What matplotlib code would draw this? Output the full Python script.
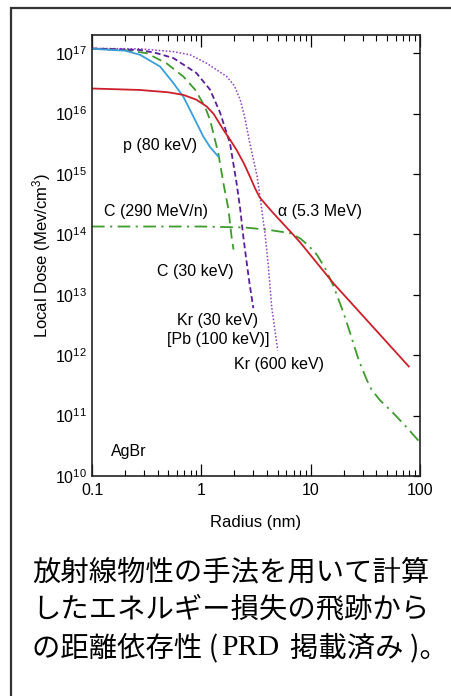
import numpy as np
import matplotlib
matplotlib.use("Agg")
import matplotlib.pyplot as plt
from matplotlib.patches import Rectangle
from matplotlib.ticker import LogLocator, NullFormatter, FixedLocator

plt.rcParams['font.family'] = ['Liberation Sans', 'DejaVu Sans']
plt.rcParams['mathtext.fontset'] = 'custom'
plt.rcParams['mathtext.rm'] = 'Liberation Sans'
plt.rcParams['mathtext.it'] = 'Liberation Sans:italic'

# courbes (rayon en nm, dose en MeV/cm3)
p_r = [0.1, 0.2, 0.275, 0.42, 0.555, 0.685, 0.875, 1.04, 1.2, 1.43]
p_d = [1.18e17, 1.1e17, 9.4e16, 6.0e16, 3.2e16, 1.9e16, 7.9e15, 4.2e15, 2.8e15, 1.94e15]

c30_r = [0.1, 0.2, 0.316, 0.48, 0.685, 0.875, 1.08, 1.2, 1.43, 1.59, 1.77, 1.89, 1.97]
c30_d = [1.18e17, 1.13e17, 1.0e17, 6.8e16, 4.1e16, 2.5e16, 1.3e16, 7.9e15, 2.2e15, 7.1e14, 2.6e14, 9.2e13, 5.6e13]

kr30_r = [0.1, 0.275, 0.39, 0.555, 0.9, 1.2, 1.48, 1.83, 2.1, 2.27, 2.42, 2.57, 2.75, 2.99]
kr30_d = [1.2e17, 1.13e17, 1.0e17, 8.3e16, 4.7e16, 2.5e16, 1.05e16, 3.2e15, 7.1e14, 2.6e14, 9.2e13, 4.0e13, 1.6e13, 6e12]

kr600_r = [0.1, 0.275, 0.555, 0.79, 1.12, 1.71, 2.0, 2.27, 2.5, 2.78, 3.24, 3.57, 3.85, 4.1, 4.4, 5.0]
kr600_d = [1.2e17, 1.18e17, 1.06e17, 9.4e16, 6.8e16, 4.1e16, 2.9e16, 1.7e16, 8.5e15, 3.2e15, 9.1e14, 2.6e14, 9.2e13, 3.0e13, 6.3e12, 1.2e12]

al_r = [0.1, 0.275, 0.5, 0.685, 0.9, 1.12, 1.3, 1.59, 1.85, 2.1, 2.45, 2.78, 3.1, 3.42, 3.9, 4.5, 6.5, 8.0, 16.2, 79]
al_d = [2.6e16, 2.46e16, 2.25e16, 2.04e16, 1.7e16, 1.31e16, 9.8e15, 5.4e15, 3.6e15, 2.5e15, 1.5e15, 9.1e14, 5.8e14, 4.1e14, 3.1e14, 2.3e14, 1.12e14, 7.4e13, 1.54e13, 6.5e11]

c290_r = [0.1, 1.0, 2.5, 3.96, 6.5, 8.0, 9.5, 11.4, 13.5, 16.2, 20, 23, 27.5, 32.6, 36, 43, 57, 75.5, 100]
c290_d = [1.35e14, 1.35e14, 1.3e14, 1.2e14, 1.05e14, 8.6e13, 6.6e13, 4.6e13, 2.8e13, 1.38e13, 5e12, 2.3e12, 8.3e11, 3.9e11, 2.7e11, 1.8e11, 1.1e11, 6.4e10, 3.6e10]

fig = plt.figure(figsize=(4.52, 6.96), dpi=100)
ax = fig.add_axes([92/452, 1-476/696, 328/452, 441/696])

lw = 1.3
ax.plot(c290_r, c290_d, color='#3f9a2e', lw=lw, dashes=(7, 3, 1.2, 3))
ax.plot(c30_r, c30_d, color='#3f9a2e', lw=lw, dashes=(5.5, 3))
ax.plot(kr600_r, kr600_d, color='#8e3bbf', lw=1.1, dashes=(1, 1.3))
ax.plot(kr30_r, kr30_d, color='#5b1f9e', lw=lw, dashes=(3.2, 1.8))
ax.plot(p_r, p_d, color='#3a9fd6', lw=lw)
ax.plot(al_r, al_d, color='#cc1f2a', lw=lw)

ax.set_xscale('log')
ax.set_yscale('log')
ax.set_xlim(0.1, 100)
ax.set_ylim(1e10, 2e17)

ax.set_xticks([0.1, 1, 10, 100])
ax.set_xticklabels(['0.1', '1', '10', '100'])
ax.xaxis.set_minor_locator(LogLocator(base=10, subs=np.arange(2, 10)))
ax.xaxis.set_minor_formatter(NullFormatter())
ax.set_yticks([10.0**k for k in range(10, 18)])
ax.set_yticklabels(['$10^{%d}$' % k for k in range(10, 18)])
ax.yaxis.set_minor_locator(FixedLocator([]))

ax.tick_params(axis='x', which='major', direction='in', top=True, length=8.5, width=0.9, labelsize=11.5, pad=5)
ax.tick_params(axis='x', which='minor', direction='in', top=True, length=4.5, width=0.8)
ax.tick_params(axis='y', which='major', direction='in', right=True, left=False, length=5, width=0.9, labelsize=11.5, pad=3.5)

for s in ax.spines.values():
    s.set_linewidth(1.2)
    s.set_color('#222222')

ax.set_xlabel('Radius (nm)', fontsize=12, labelpad=12)
ax.set_ylabel('Local Dose (Mev/cm$^3$)', fontsize=12)
ax.yaxis.set_label_coords(-0.12, 0.5)

fs = 11.5
ax.text(0.42, 3.0e15, 'p (80 keV)', fontsize=fs, ha='center', va='center')
ax.text(0.385, 2.4e14, 'C (290 MeV/n)', fontsize=fs, ha='center', va='center')
ax.text(12.1, 2.4e14, '\u03b1 (5.3 MeV)', fontsize=fs, ha='center', va='center')
ax.text(0.885, 2.4e13, 'C (30 keV)', fontsize=fs, ha='center', va='center')
ax.text(1.41, 3.7e12, 'Kr (30 keV)', fontsize=fs, ha='center', va='center')
ax.text(1.44, 1.84e12, '[Pb (100 keV)]', fontsize=fs, ha='center', va='center')
ax.text(5.08, 7.1e11, 'Kr (600 keV)', fontsize=fs, ha='center', va='center')
ax.text(0.217, 2.5e10, 'AgBr', fontsize=fs, ha='center', va='center')

# cadre extérieur
fig.add_artist(Rectangle((10.5/452, -0.1), 1.2, 1 - 8/696 + 0.1, transform=fig.transFigure,
                         fill=False, lw=1.6, edgecolor='#333333'))

jp = ['放射線物性の手法を用いて計算',
      'したエネルギー損失の飛跡から']
ys = [572, 610]
jfam = ['Noto Sans CJK JP', 'DejaVu Sans']
for t, y in zip(jp, ys):
    fig.text(32/452, 1 - y/696, t, fontsize=20.4, va='center', ha='left', family=jfam)

y3 = 1 - 648/696
fig.text(32/452, y3, 'の距離依存性 (', fontsize=20.4, va='center', ha='left', family=jfam)
fig.text(221/452, y3, 'PRD', fontsize=21.5, va='center', ha='left', family='Liberation Serif')
fig.text(290/452, y3, '掲載済み )。', fontsize=20.4, va='center', ha='left', family=jfam)

fig.savefig('out.png', dpi=100)
